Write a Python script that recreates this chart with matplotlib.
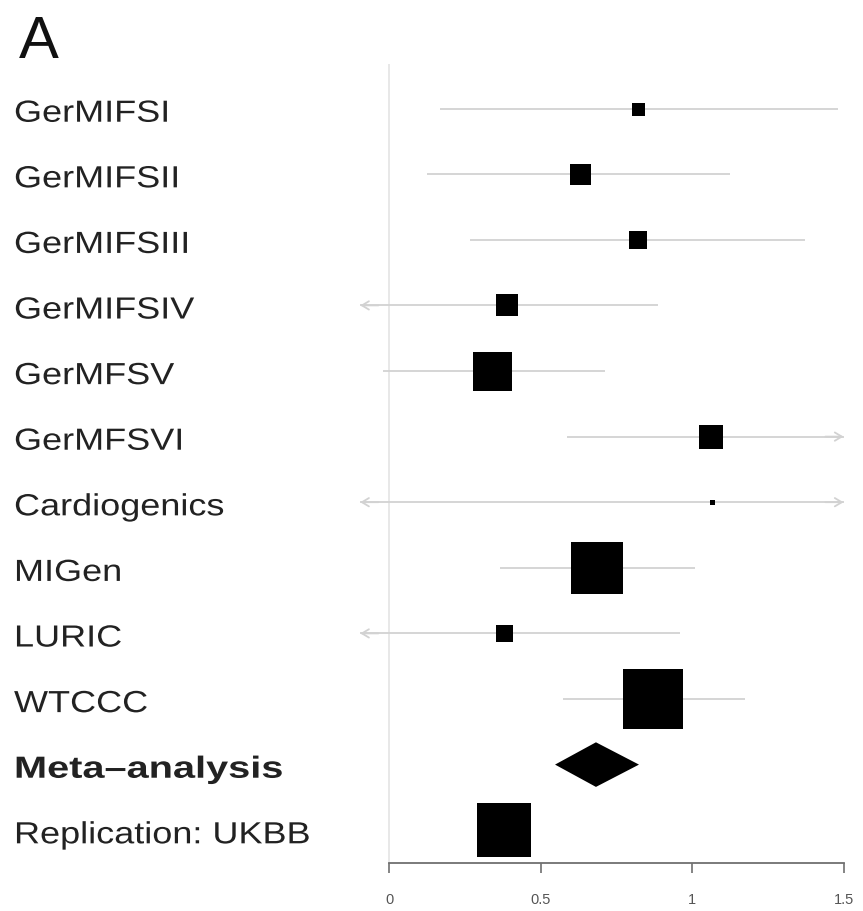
import numpy as np
import matplotlib
matplotlib.use("Agg")
import matplotlib.pyplot as plt
from matplotlib.patches import Polygon
from matplotlib.patheffects import AbstractPathEffect
from matplotlib.transforms import Affine2D, blended_transform_factory

# study level estimates
studies = ["GerMIFSI", "GerMIFSII", "GerMIFSIII", "GerMIFSIV", "GerMFSV",
           "GerMFSVI", "Cardiogenics", "MIGen", "LURIC", "WTCCC"]
estimate = [0.823, 0.632, 0.822, 0.391, 0.340, 1.063, 1.066, 0.686, 0.381, 0.871]
lower = [0.168, 0.125, 0.267, -0.25, -0.020, 0.587, -0.40, 0.366, -0.30, 0.574]
upper = [1.482, 1.125, 1.373, 0.888, 0.713, 1.70, 2.50, 1.010, 0.960, 1.175]
weight = [13, 21, 18, 23, 39, 24, 5, 52, 17, 60]

# pooled estimate and replication
meta_label = "Meta\u2013analysis"
meta_est, meta_lo, meta_hi = 0.683, 0.548, 0.825
rep_label = "Replication: UKBB"
rep_est, rep_lo, rep_hi, rep_weight = 0.380, 0.31, 0.45, 54

xticks = [0, 0.5, 1, 1.5]
xtick_labels = ["0", "0.5", "1", "1.5"]


class Stretch(AbstractPathEffect):
    """Widen glyphs horizontally about the text origin."""
    def __init__(self, sx):
        super().__init__()
        self.sx = sx

    def draw_path(self, renderer, gc, tpath, affine, rgbFace=None):
        renderer.draw_path(gc, tpath, Affine2D().scale(self.sx, 1) + affine, rgbFace)


W, H, DPI = 863, 912, 100
fig = plt.figure(figsize=(W / DPI, H / DPI), dpi=DPI)
plt.rcParams["font.family"] = ["Liberation Sans", "DejaVu Sans"]

XMIN, XMAX = -0.105, 1.52
px_left = 389 - 0.105 * 303
px_right = 389 + 1.52 * 303
ax = fig.add_axes([px_left / W, (H - 864) / H, (px_right - px_left) / W, 799 / H])
ax.set_xlim(XMIN, XMAX)
ax.set_ylim(11.5, -0.68)

CI_COL = "#d2d2d2"
clip_lo, clip_hi = -0.095, 1.5

ax.axvline(0, color="#e8e8e8", lw=1.4, zorder=0)

rows = np.arange(len(studies))
for r, est, lo, hi, w in zip(rows, estimate, lower, upper, weight):
    a, b = max(lo, clip_lo), min(hi, clip_hi)
    ax.plot([a, b], [r, r], color=CI_COL, lw=1.3, zorder=1, solid_capstyle="butt")
    if lo < clip_lo:
        ax.annotate("", xy=(clip_lo, r), xytext=(clip_lo + 0.06, r),
                    arrowprops=dict(arrowstyle="->,head_length=0.5,head_width=0.3",
                                    color=CI_COL, lw=1.3, shrinkA=0, shrinkB=0))
    if hi > clip_hi:
        ax.annotate("", xy=(clip_hi, r), xytext=(clip_hi - 0.06, r),
                    arrowprops=dict(arrowstyle="->,head_length=0.5,head_width=0.3",
                                    color=CI_COL, lw=1.3, shrinkA=0, shrinkB=0))
    ax.plot(est, r, marker="s", color="black", ms=w * 72 / DPI, mew=0, zorder=3)

# pooled diamond
r_meta = len(studies)
h = 0.34
ax.add_patch(Polygon([(meta_lo, r_meta), (meta_est, r_meta - h),
                      (meta_hi, r_meta), (meta_est, r_meta + h)],
                     closed=True, facecolor="black", edgecolor="none", zorder=3))

# replication
r_rep = len(studies) + 1
ax.plot([rep_lo, rep_hi], [r_rep, r_rep], color=CI_COL, lw=1.3, zorder=1)
ax.plot(rep_est, r_rep, marker="s", color="black", ms=rep_weight * 72 / DPI, mew=0, zorder=3)

# axes styling
for s in ["top", "right", "left"]:
    ax.spines[s].set_visible(False)
ax.spines["bottom"].set_bounds(0, 1.5)
ax.spines["bottom"].set_color("#707070")
ax.spines["bottom"].set_linewidth(1.3)
ax.set_yticks([])
ax.set_xticks(xticks)
ax.set_xticklabels(xtick_labels)
ax.tick_params(axis="x", length=7, width=1.2, color="#707070", labelsize=10.5,
               labelcolor="#555555", pad=14)

# row labels
trans = blended_transform_factory(fig.transFigure, ax.transData)
labels = studies + [meta_label, rep_label]
for i, lab in enumerate(labels):
    bold = lab == meta_label
    ax.text(14 / W, i + 0.2, lab, transform=trans, ha="left", va="baseline",
            fontsize=22, color="#222222", fontweight="bold" if bold else "normal",
            path_effects=[Stretch(1.3 if bold else 1.18)], clip_on=False)

fig.text(19 / W, 1 - 58 / H, "A", ha="left", va="baseline", fontsize=43, color="#111111")

fig.savefig("out.png", dpi=DPI)
